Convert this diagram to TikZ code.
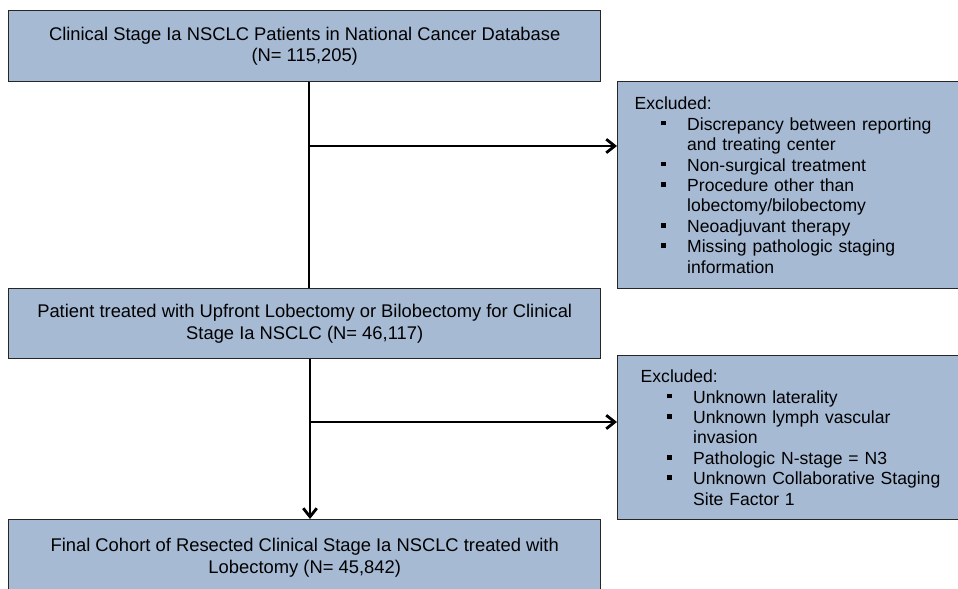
\documentclass[tikz,border=0pt]{standalone}
\usepackage{fontspec}
\setmainfont{Liberation Sans}
\usepackage{xcolor}
\usetikzlibrary{
  positioning,
  calc,
  arrows.meta
}
\definecolor{boxfill}{HTML}{A6BAD4}
\definecolor{boxline}{HTML}{262626}
\newcommand{\exitem}[1]{\par\noindent\hspace*{0.53cm}\makebox[0.52cm][l]{\rule[2.6pt]{2.8pt}{2.8pt}}#1}
\newcommand{\excont}[1]{\par\noindent\hspace*{1.05cm}#1}

\begin{document}
\begin{tikzpicture}[
    stagebox/.style={draw=boxline, fill=boxfill, line width=0.8pt, anchor=north west,
      minimum width=11.84cm, inner sep=0pt, align=center,
      font=\fontsize{10.45}{12.4}\selectfont},
    exclbox/.style={draw=boxline, fill=boxfill, line width=0.8pt, anchor=north west,
      inner ysep=0pt, align=left, font=\fontsize{10}{11.65}\selectfont},
    flow/.style={line width=1.6pt},
    flowarrow/.style={flow, -{Straight Barb[length=1.7mm, width=2.7mm]}}
  ]
      \useasboundingbox (0,0) rectangle (19.16,-11.78);
      \clip (0,0) rectangle (19.16,-11.78);

      % Main boxes
      \node[stagebox, minimum height=1.42cm] (cohort) at (0.16,-0.2)
        {Clinical Stage Ia NSCLC Patients in National Cancer Database\\(N= 115,205)};
      \node[stagebox, minimum height=1.40cm] (lobe) at (0.16,-5.76)
        {Patient treated with Upfront Lobectomy or Bilobectomy for Clinical\\Stage Ia NSCLC (N= 46,117)};
      \node[stagebox, minimum height=1.52cm] (final) at (0.16,-10.38)
        {Final Cohort of Resected Clinical Stage Ia NSCLC treated with\\Lobectomy (N= 45,842)};

      % Exclusion boxes
      \node[exclbox, minimum height=4.14cm, inner xsep=0.34cm, text width=6.32cm] (excl1) at (12.34,-1.62)
        {Excluded:
         \exitem{Discrepancy between reporting}
         \excont{and treating center}
         \exitem{Non-surgical treatment}
         \exitem{Procedure other than}
         \excont{lobectomy/bilobectomy}
         \exitem{Neoadjuvant therapy}
         \exitem{Missing pathologic staging}
         \excont{information}};
      \node[exclbox, minimum height=3.28cm, inner xsep=0.46cm, text width=6.08cm] (excl2) at (12.34,-7.1)
        {Excluded:
         \exitem{Unknown laterality}
         \exitem{Unknown lymph vascular}
         \excont{invasion}
         \exitem{Pathologic N-stage = N3}
         \exitem{Unknown Collaborative Staging}
         \excont{Site Factor 1}};

      % Connectors
      \coordinate (split1) at (6.18,-2.92);
      \coordinate (split2) at (6.2,-8.44);
      \draw[flow] (cohort.south -| split1) -- (lobe.north -| split1);
      \draw[flowarrow] (split1) -- (excl1.west |- split1);
      \draw[flowarrow] (lobe.south -| split2) -- (final.north -| split2);
      \draw[flowarrow] (split2) -- (excl2.west |- split2);
\end{tikzpicture}
\end{document}
